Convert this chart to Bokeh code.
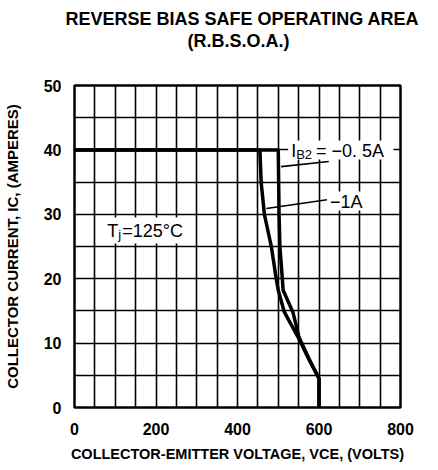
from bokeh.plotting import figure
from bokeh.models import Range1d, Label, BoxAnnotation, FixedTicker, Title
from bokeh.embed import file_html
from bokeh.resources import INLINE

# ---- data ----
x_ticks = [0, 200, 400, 600, 800]
y_ticks = [0, 10, 20, 30, 40, 50]
x_grid = list(range(0, 801, 50))
y_grid = list(range(0, 51, 5))

# I_B2 = -0.5 A curve
vce_ib05 = [0, 500, 501, 502, 504, 510, 512, 536, 551, 576, 600, 600]
ic_ib05 = [40, 40, 35, 30, 25, 20, 18.2, 14.8, 10.9, 7.5, 4.5, 0]
# I_B2 = -1 A curve
vce_ib1 = [0, 455, 458, 466, 483, 495, 500, 515, 549, 575, 600, 600]
ic_ib1 = [40, 40, 35, 30, 25, 20, 18.2, 14.8, 10.9, 7.5, 4.5, 0]

# leader lines from labels to curves
lead05_v = [507, 624]
lead05_i = [37.4, 38.2]
lead1_v = [471, 624]
lead1_i = [30.9, 32.3]

title_1 = "REVERSE BIAS SAFE OPERATING AREA"
title_2 = "(R.B.S.O.A.)"
x_label = "COLLECTOR-EMITTER VOLTAGE, VCE, (VOLTS)"
y_label = "COLLECTOR CURRENT, IC, (AMPERES)"

# ---- layout helpers (page pixel -> data) ----
FX0, FX1 = 72, 400   # frame left/right on page
FY0, FY1 = 407, 85   # frame bottom/top on page


def vx(px):
    return (px - FX0) / (FX1 - FX0) * 800


def iy(py):
    return (FY0 - py) / (FY0 - FY1) * 50


W, H = 430, 467
p = figure(width=W, height=H, x_range=Range1d(0, 800), y_range=Range1d(0, 50),
           output_backend="svg", toolbar_location=None, title=None,
           min_border_left=FX0, min_border_right=W - FX1,
           min_border_top=FY1, min_border_bottom=H - FY0)
p.background_fill_color = "white"
p.border_fill_color = "white"
p.outline_line_color = "black"
p.outline_line_width = 2.5

FONT = "Liberation Sans"

# spacer between frame and the two title lines, then the two lines
p.add_layout(Title(text=" ", text_font_size="1px", standoff=32), "above")
p.add_layout(Title(text=title_2, align="left", offset=185 - FX0, standoff=0,
                   text_font=FONT, text_font_size="18px", text_font_style="bold",
                   text_color="black"), "above")
p.add_layout(Title(text=title_1, align="left", offset=63 - FX0, standoff=0,
                   text_font=FONT, text_font_size="18px", text_font_style="bold",
                   text_color="black"), "above")

p.xaxis.ticker = FixedTicker(ticks=x_ticks)
p.yaxis.ticker = FixedTicker(ticks=y_ticks)
p.xgrid.ticker = FixedTicker(ticks=x_grid)
p.ygrid.ticker = FixedTicker(ticks=y_grid)
for g in (p.xgrid, p.ygrid):
    g.grid_line_color = "black"
    g.grid_line_width = 1.6
    g.grid_line_alpha = 1.0

for ax in (p.xaxis, p.yaxis):
    ax.axis_line_color = None
    ax.major_tick_line_color = None
    ax.minor_tick_line_color = None
    ax.major_label_text_font = FONT
    ax.major_label_text_font_size = "16px"
    ax.major_label_text_font_style = "bold"
    ax.major_label_text_color = "black"
    ax.axis_label_text_font = FONT
    ax.axis_label_text_font_style = "bold"
    ax.axis_label_text_color = "black"
p.xaxis.major_label_standoff = 9
p.yaxis.major_label_standoff = 7
p.xaxis.axis_label = x_label
p.yaxis.axis_label = y_label
p.xaxis.axis_label_text_font_size = "14.5px"
p.yaxis.axis_label_text_font_size = "15px"
p.xaxis.axis_label_standoff = 8
p.yaxis.axis_label_standoff = 20

# curves
p.line(vce_ib05, ic_ib05, line_color="black", line_width=3.5, line_join="round")
p.line(vce_ib1, ic_ib1, line_color="black", line_width=3.5, line_join="round")

# leaders
p.line(lead05_v, lead05_i, line_color="black", line_width=1.6)
p.line(lead1_v, lead1_i, line_color="black", line_width=1.6)

# white backgrounds behind in-plot texts
for (l, r, t, b) in [(287, 393, 140, 159), (326, 372, 191, 210), (100, 187, 217, 243)]:
    p.add_layout(BoxAnnotation(left=vx(l), right=vx(r), top=iy(t), bottom=iy(b),
                               fill_color="white", fill_alpha=1.0, line_color=None,
                               level="annotation"))


def lab(px, py, text, size):
    p.add_layout(Label(x=vx(px), y=iy(py), text=text, text_font=FONT,
                       text_font_size=f"{size}px", text_align="left",
                       text_baseline="middle", text_color="black"))


# in-plot annotations
lab(290, 150, "I", 18)
lab(295, 154, "B2", 13)
lab(315, 150, "= −0. 5A", 18)
lab(329, 201, "−1A", 18)
lab(105, 230, "T", 18)
lab(116, 234, "j", 13)
lab(120, 230, "=125°C", 18)

open("out.html", "w").write(file_html(p, INLINE))
